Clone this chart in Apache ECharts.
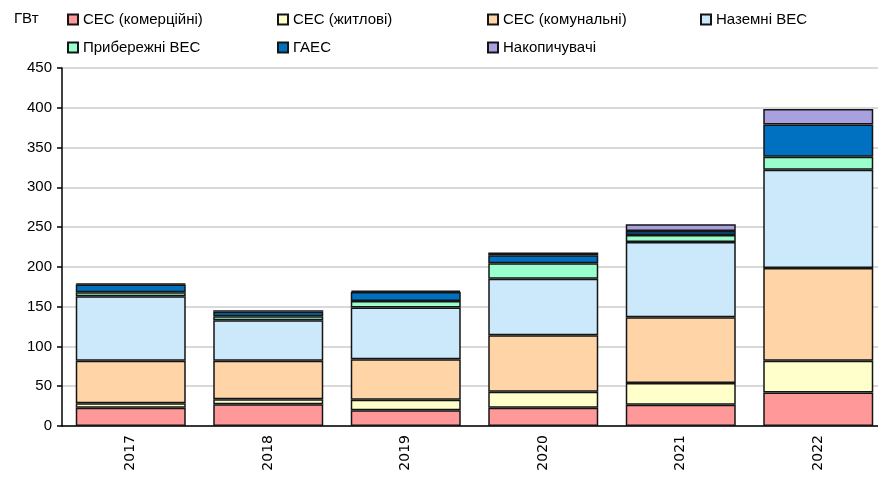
<!DOCTYPE html>
<html>
<head>
<meta charset="utf-8">
<script src="https://cdn.jsdelivr.net/npm/echarts@6/dist/echarts.min.js"></script>
<style>
    html, body { margin: 0; padding: 0; background: #fff; }
    #chart { width: 878px; height: 477px; }
</style>
</head>
<body>
<div id="chart"></div>
<script>
let years = ["2017", "2018", "2019", "2020", "2021", "2022"];
let seriesNames = ["СЕС (комерційні)", "СЕС (житлові)", "СЕС (комунальні)", "Наземні ВЕС",
    "Прибережні ВЕС", "ГАЕС", "Накопичувачі"];
let seriesColors = ["#FF9999", "#FFFFCC", "#FFD5A8", "#CCE9FC", "#99FFCC", "#0070C0", "#A9A0E0"];

let solarCommercial = [23, 27.3, 19.7, 23, 26.8, 42];
let solarResidential = [5.5, 6.2, 13.3, 20, 27.2, 40];
let solarUtility = [53.5, 48.5, 51, 71, 82.6, 116.6];
let windOnshore = [81, 51, 65, 71, 94.7, 123.6];
let windOffshore = [5, 5, 8, 19.5, 8.7, 16.3];
let pumpedHydro = [10, 5.5, 11.5, 10, 5, 40.5];
let storage = [1, 2, 1.5, 3.5, 8.5, 19.5];

let yTicks = [0, 50, 100, 150, 200, 250, 300, 350, 400, 450];

function paintChart(element) {
    let chart = echarts.init(document.getElementById(element));
    let dataSets = [solarCommercial, solarResidential, solarUtility, windOnshore,
        windOffshore, pumpedHydro, storage];
    // legend laid out in a 4-column grid like the original
    let legendCols = [62, 272, 482, 695];
    let legendRows = [7, 35];
    let legends = seriesNames.map(function (name, i) {
        return {
            left: legendCols[i % 4],
            top: legendRows[Math.floor(i / 4)],
            itemWidth: 10,
            itemHeight: 10,
            itemGap: 0,
            icon: "rect",
            data: [name],
            textStyle: {
                fontFamily: "Liberation Sans",
                fontSize: 15,
                color: "#000"
            }
        };
    });
    let option = {
        animation: false,
        title: {
            text: "ГВт",
            left: 9,
            top: 6,
            textStyle: {
                fontFamily: "Liberation Sans",
                fontWeight: "normal",
                fontSize: 15,
                color: "#000"
            }
        },
        legend: legends,
        grid: {
            left: 62,
            top: 68,
            width: 825,
            bottom: 51,
            outerBoundsMode: "none"
        },
        xAxis: {
            type: "category",
            data: years,
            axisLine: { lineStyle: { color: "#000", width: 1.5 } },
            axisTick: { length: 6, lineStyle: { color: "#000", width: 1.5 } },
            axisLabel: {
                rotate: 90,
                margin: 9,
                fontFamily: "DejaVu Sans",
                fontSize: 14,
                color: "#000"
            }
        },
        yAxis: {
            type: "value",
            min: yTicks[0],
            max: yTicks[yTicks.length - 1],
            interval: 50,
            axisLine: { show: true, lineStyle: { color: "#000", width: 1.5 } },
            axisTick: { show: true, length: 5, lineStyle: { color: "#000", width: 1.5 } },
            axisLabel: {
                margin: 10,
                fontFamily: "Liberation Sans",
                fontSize: 15,
                color: "#000"
            },
            splitLine: { lineStyle: { color: "#D9D9D9", width: 2 } }
        },
        series: dataSets.map(function (values, i) {
            return {
                name: seriesNames[i],
                type: "bar",
                stack: "total",
                barWidth: "80%",
                data: values,
                itemStyle: {
                    color: seriesColors[i],
                    borderColor: "#151515",
                    borderWidth: 1.5
                }
            };
        })
    };
    chart.setOption(option);
}

paintChart("chart");
</script>
</body>
</html>
